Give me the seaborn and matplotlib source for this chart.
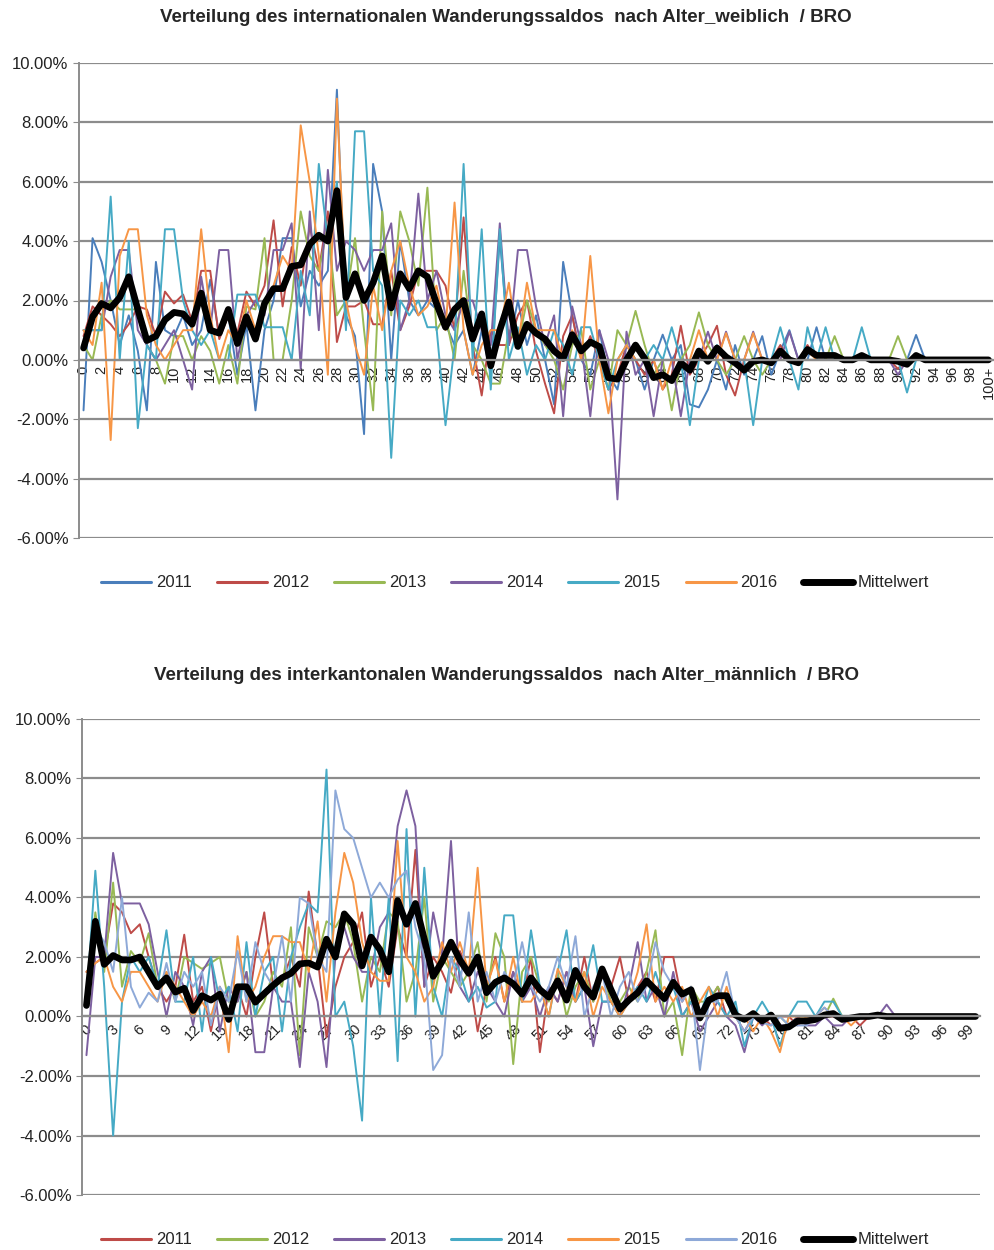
import matplotlib
matplotlib.use("Agg")
import matplotlib.pyplot as plt
import seaborn as sns
import pandas as pd
from matplotlib.lines import Line2D
from matplotlib.ticker import FuncFormatter, MultipleLocator

# Alter 0 .. 100+ (Kategorien)
ages = list(range(101))

# --- Panel 1: internationaler Wanderungssaldo, weiblich (Werte in %) ---
w_2011 = [-1.7, 4.1, 3.3, 2.0, 0.5, 1.5, 0.3, -1.7, 3.3, 1.0,
          0.8, 1.5, 0.5, 1.0, 2.7, 0.8, 1.5, -0.5, 1.2, -1.7,
          1.0, 2.0, 4.1, 4.1, 1.8, 3.0, 2.5, 3.0, 9.1, 1.5,
          0.8, -2.5, 6.6, 5.0, 0.0, 4.0, 2.0, 1.5, 2.0, 1.7,
          1.2, 0.5, 1.0, -0.5, 1.0, -0.5, 4.1, 0.5, 2.0, 0.5,
          1.5, 0.0, -1.5, 3.3, 1.5, 0.0, -0.5, 1.0, -0.5, -1.0,
          0.5, 0.0, -1.0, 0.0, 0.85, 0.0, 0.5, -1.5, -1.6, -1.0,
          0.0, -1.0, 0.5, -0.5, 0.0, 0.8, -0.5, 0.3, 1.0, 0.0,
          0.0, 1.1, 0.0, 0.0, 0.0, 0.0, 0.0, 0.0, 0.0, 0.0,
          0.0, 0.0, 0.84, 0.0, 0.0, 0.0, 0.0, 0.0, 0.0, 0.0, 0.0]
w_2012 = [0.8, 1.8, 1.5, 1.2, 0.8, 1.2, 1.8, 1.7, 0.8, 2.3,
          1.9, 2.2, 1.3, 3.0, 3.0, 0.7, 1.5, 0.9, 2.3, 1.8,
          2.5, 4.7, 1.8, 3.8, 2.5, 4.5, 3.0, 5.0, 0.6, 1.8,
          1.8, 2.0, 1.2, 1.2, 3.0, 1.0, 1.8, 3.0, 3.0, 3.0,
          2.5, 1.0, 4.8, 0.5, -1.2, 1.0, 0.5, 0.5, 1.5, 2.0,
          0.3, -0.8, -1.8, 0.8, 1.5, 0.0, 0.8, 0.0, -1.0, -0.5,
          0.5, 0.0, -0.5, 0.0, -1.0, -0.5, 1.15, -0.5, 0.0, 0.5,
          1.15, -0.5, -1.2, 0.0, 0.0, 0.0, 0.0, 0.5, 0.0, 0.0,
          0.5, 0.0, 0.0, 0.0, 0.0, 0.0, 0.0, 0.0, 0.0, 0.0,
          -0.3, 0.0, 0.0, 0.0, 0.0, 0.0, 0.0, 0.0, 0.0, 0.0, 0.0]
w_2013 = [0.5, 0.0, 1.5, 2.0, 1.7, 1.7, 1.7, 0.5, 0.0, -0.8,
          0.8, 0.8, 0.0, 0.8, 0.3, -0.8, 0.5, -0.8, 1.8, 1.7,
          4.1, 0.0, 0.0, 2.0, 5.0, 3.5, 3.0, 4.5, 1.5, 2.0,
          4.1, 1.0, -1.7, 5.0, 1.5, 5.0, 4.0, 2.5, 5.8, 1.0,
          1.5, 0.0, 3.0, 0.5, 0.0, -0.8, -0.8, 1.0, 0.5, 2.0,
          1.0, 0.5, 0.0, -1.0, 0.5, 1.0, -1.0, 0.0, -1.0, 1.0,
          0.5, 1.65, 0.5, -0.5, 0.0, -1.7, 0.0, 0.5, 1.6, 0.5,
          0.0, -0.5, 0.0, 0.8, 0.0, -0.5, 0.0, 0.0, 0.0, 0.0,
          0.0, 0.0, 0.0, 0.8, 0.0, 0.0, 0.0, 0.0, 0.0, 0.0,
          0.8, 0.0, 0.0, 0.0, 0.0, 0.0, 0.0, 0.0, 0.0, 0.0, 0.0]
w_2014 = [1.0, 1.0, 1.0, 2.8, 3.7, 3.7, 1.0, 0.5, 0.0, 0.5,
          1.0, 0.0, -1.0, 2.8, 1.0, 3.7, 3.7, 0.0, 1.5, 2.0,
          1.5, 3.7, 3.7, 4.6, -0.3, 5.0, 1.0, 6.4, 3.0, 4.0,
          3.7, 3.0, 3.7, 3.7, 4.6, 1.0, 2.0, 5.6, 2.0, 3.0,
          1.5, 1.0, 2.0, 2.0, 1.0, 0.5, 4.6, 0.5, 3.7, 3.7,
          1.8, 0.5, 1.5, -1.9, 1.8, 0.5, -1.9, 1.0, 0.0, -4.7,
          0.95, -0.5, 0.0, -1.9, 0.0, 0.0, -1.9, 0.0, 0.0, 0.95,
          0.0, 0.95, 0.0, 0.0, 0.95, 0.0, 0.0, 0.0, 0.95, 0.0,
          0.0, 0.0, 0.0, 0.0, 0.0, 0.0, 0.0, 0.0, 0.0, 0.0,
          -0.5, 0.0, 0.0, 0.0, 0.0, 0.0, 0.0, 0.0, 0.0, 0.0, 0.0]
w_2015 = [1.0, 1.0, 1.0, 5.5, 0.0, 4.0, -2.3, 0.5, 0.0, 4.4,
          4.4, 2.0, 1.0, 0.5, 1.0, 0.0, 0.0, 2.2, 2.2, 2.2,
          1.1, 1.1, 1.1, 0.0, 3.0, 1.5, 6.6, 4.0, 6.0, 1.0,
          7.7, 7.7, 3.0, 2.5, -3.3, 2.0, 1.5, 2.0, 1.1, 1.1,
          -2.2, 0.5, 6.6, 0.0, 4.4, -1.0, 4.4, 0.0, 1.1, -0.5,
          0.5, 0.0, 1.0, 0.5, -0.5, 1.1, 1.1, 0.0, -1.0, 0.0,
          0.5, 0.0, 0.0, 0.5, 0.0, 1.1, 0.0, -2.2, 0.0, 0.0,
          0.5, 0.0, 0.0, 0.0, -2.2, 0.0, 0.0, 1.1, 0.0, -1.0,
          1.1, 0.0, 1.1, 0.0, 0.0, 0.0, 1.1, 0.0, 0.0, 0.0,
          0.0, -1.1, 0.0, 0.0, 0.0, 0.0, 0.0, 0.0, 0.0, 0.0, 0.0]
w_2016 = [1.0, 0.5, 2.6, -2.7, 3.5, 4.4, 4.4, 1.5, 0.5, 0.0,
          0.5, 1.0, 1.0, 4.4, 1.5, 0.0, 1.0, 0.5, 2.0, 1.0,
          2.0, 2.5, 3.5, 3.0, 7.9, 6.0, 3.5, -0.5, 8.8, 2.0,
          0.5, -0.5, 2.5, 1.0, 3.0, 4.0, 2.5, 1.5, 1.8, 2.5,
          1.0, 5.3, 1.0, -0.5, 0.5, 1.0, 1.0, 2.6, 0.5, 2.6,
          1.0, 1.0, 1.0, 0.0, 1.0, 0.0, 3.5, 0.0, -1.8, 0.0,
          0.5, 0.0, 0.0, 0.0, -1.0, 0.0, 0.0, 0.0, 1.0, 0.0,
          0.0, 0.9, 0.0, 0.0, 0.9, 0.0, 0.0, 0.0, 0.0, 0.0,
          0.3, 0.0, 0.0, 0.0, 0.0, 0.0, 0.0, 0.0, 0.0, 0.0,
          0.0, 0.0, 0.0, 0.0, 0.0, 0.0, 0.0, 0.0, 0.0, 0.0, 0.0]
w_mean = [0.4, 1.45, 1.9, 1.75, 2.1, 2.8, 1.7, 0.65, 0.8, 1.35,
          1.6, 1.55, 1.2, 2.25, 1.0, 0.9, 1.7, 0.55, 1.45, 0.7,
          1.9, 2.4, 2.4, 3.15, 3.2, 3.9, 4.2, 4.0, 5.7, 2.1,
          2.9, 2.0, 2.6, 3.5, 1.75, 2.9, 2.4, 3.0, 2.8, 1.9,
          1.1, 1.7, 2.0, 0.7, 1.55, -0.2, 1.0, 1.95, 0.45, 1.2,
          0.9, 0.7, 0.3, 0.05, 0.85, 0.3, 0.6, 0.45, -0.6, -0.65,
          0.0, 0.5, 0.05, -0.6, -0.5, -0.7, -0.1, -0.35, 0.3, -0.05,
          0.4, 0.1, -0.1, -0.35, -0.05, 0.0, -0.1, 0.3, 0.0, -0.1,
          0.35, 0.15, 0.15, 0.15, 0.0, 0.0, 0.15, 0.0, 0.0, 0.0,
          -0.05, -0.15, 0.15, 0.0, 0.0, 0.0, 0.0, 0.0, 0.0, 0.0, 0.0]

# --- Panel 2: interkantonaler Wanderungssaldo, maennlich (Werte in %) ---
m_2011 = [1.5, 1.8, 2.0, 3.8, 3.5, 2.8, 3.1, 2.0, 1.0, 0.5,
          1.0, 2.75, 0.5, 1.0, -0.5, 1.0, 0.0, 1.0, 0.0, 2.0,
          3.5, 1.0, 1.2, 2.0, 1.0, 4.2, 2.0, -0.7, 1.0, 2.0,
          2.5, 3.5, 1.0, 2.0, 1.0, 3.0, 2.0, 5.6, 1.0, 2.0,
          1.5, 0.8, 2.2, 1.5, -0.5, 1.0, 2.0, 0.5, 1.5, 0.5,
          2.0, -1.2, 1.0, 0.5, 1.5, 0.5, 2.0, 0.5, 1.5, 1.0,
          2.0, 0.5, 1.0, 1.5, 0.5, 2.0, 2.0, 0.5, 1.0, 0.0,
          0.5, 1.0, 0.0, 0.0, -0.5, 0.0, 0.0, -0.3, 0.0, 0.0,
          -0.3, 0.0, 0.0, 0.0, 0.0, 0.0, 0.0, -0.3, 0.0, 0.0,
          0.0, 0.0, 0.0, 0.0, 0.0, 0.0, 0.0, 0.0, 0.0, 0.0, 0.0]
m_2012 = [0.5, 3.5, 1.5, 4.5, 1.0, 2.2, 1.8, 2.8, 1.0, 1.5,
          0.5, 2.0, 1.8, 1.6, 1.8, 2.0, 0.5, 0.5, 1.5, 0.0,
          0.5, 1.5, 1.0, 3.0, -1.3, 3.0, 2.0, 3.2, 3.0, 3.5,
          2.5, 0.5, 2.0, 1.5, 3.5, 3.2, 0.5, 1.5, 4.0, 0.5,
          2.0, 1.5, 1.0, 1.5, 2.5, 0.5, 2.8, 2.0, -1.6, 1.5,
          2.0, 1.0, 0.5, 1.5, 0.0, 1.0, 1.5, 0.5, 1.5, 0.5,
          0.5, 1.0, 0.5, 1.5, 2.9, 0.0, 0.5, -1.3, 1.0, 0.5,
          0.5, 1.0, 0.5, 0.0, 0.0, 0.0, 0.0, 0.0, 0.0, -0.3,
          0.0, 0.0, 0.0, 0.0, 0.6, 0.0, 0.0, 0.0, 0.0, 0.0,
          0.0, 0.0, 0.0, 0.0, 0.0, 0.0, 0.0, 0.0, 0.0, 0.0, 0.0]
m_2013 = [-1.3, 2.0, 2.0, 5.5, 3.8, 3.8, 3.8, 3.1, 1.5, 0.0,
          1.5, 1.0, -0.3, 1.5, 2.0, -0.5, 1.0, 0.5, 1.5, -1.2,
          -1.2, 1.0, 0.5, 0.5, -1.7, 1.5, 0.5, -1.7, 2.0, 3.0,
          2.0, 1.5, 1.5, 3.0, 3.5, 6.4, 7.6, 6.4, 1.0, 3.5,
          2.0, 5.9, 1.0, 0.5, 1.5, 1.0, 0.5, 0.0, 1.5, 0.5,
          1.0, 0.0, 1.0, 0.5, 1.5, 0.5, 1.0, -1.0, 0.5, 0.5,
          0.0, 1.0, 2.5, 0.5, 1.0, 0.0, 1.5, 0.0, 0.5, -0.5,
          0.0, 0.5, 0.0, -0.3, -1.2, 0.0, -0.3, 0.0, -0.3, -0.3,
          0.0, -0.3, -0.3, 0.0, -0.3, -0.3, 0.0, 0.0, 0.0, 0.0,
          0.4, 0.0, 0.0, 0.0, 0.0, 0.0, 0.0, 0.0, 0.0, 0.0, 0.0]
m_2014 = [0.5, 4.9, 1.0, -4.0, 0.5, 2.0, 1.5, 2.0, 1.0, 2.9,
          0.5, 0.5, 2.0, -0.5, 2.0, 0.5, 1.0, -0.5, 2.5, 0.0,
          1.5, 2.0, -0.5, 2.0, 3.0, 3.8, 3.5, 8.3, 0.0, 0.5,
          -1.0, -3.5, 4.0, 0.0, 4.0, -1.5, 6.3, 0.0, 5.0, 1.0,
          0.0, 2.0, 1.5, 0.5, 1.0, 0.3, 0.5, 3.4, 3.4, 0.5,
          2.9, 1.0, 0.0, 1.5, 2.9, 0.5, 1.0, 2.4, 0.5, 0.5,
          0.0, 0.5, 1.0, 0.5, 1.5, 0.5, 1.0, 0.0, 0.5, 0.0,
          1.0, 0.5, 0.0, 0.5, -1.0, 0.0, 0.5, 0.0, -1.0, 0.0,
          0.5, 0.5, 0.0, 0.5, 0.5, 0.0, 0.0, 0.0, 0.0, 0.0,
          0.0, 0.0, 0.0, 0.0, 0.0, 0.0, 0.0, 0.0, 0.0, 0.0, 0.0]
m_2015 = [1.5, 1.8, 2.0, 1.0, 0.5, 1.5, 1.5, 1.0, 0.5, 1.5,
          1.0, 0.5, 0.0, 0.5, 0.0, 1.0, -1.2, 2.7, 0.5, 1.0,
          2.0, 2.7, 2.7, 2.5, 2.5, 1.5, 3.2, 0.5, 3.5, 5.5,
          4.5, 2.5, 1.5, 1.2, 1.2, 5.9, 2.0, 1.5, 0.5, 1.0,
          2.5, 1.5, 2.5, 1.5, 5.0, 1.0, 1.9, 0.5, 2.0, 0.5,
          0.5, 1.0, 0.0, 1.6, 1.0, 0.5, 1.5, 0.0, 1.0, 0.5,
          0.0, 0.5, 1.5, 3.1, 0.5, 1.0, 0.5, 1.0, 0.0, 0.5,
          1.0, 0.0, 1.0, 0.0, 0.0, -0.5, 0.0, -0.5, -1.2, 0.0,
          0.0, 0.0, 0.0, 0.3, 0.0, 0.0, -0.3, 0.0, 0.0, 0.0,
          0.0, 0.0, 0.0, 0.0, 0.0, 0.0, 0.0, 0.0, 0.0, 0.0, 0.0]
m_2016 = [0.5, 3.0, 2.5, 1.5, 4.0, 1.0, 0.3, 0.8, 0.5, 1.8,
          0.5, 1.5, 1.0, 1.5, -0.3, 1.0, 0.5, 2.2, 0.5, 2.5,
          1.5, 1.0, 2.7, 0.5, 4.0, 3.8, 2.0, 1.5, 7.6, 6.3,
          6.0, 5.0, 4.0, 4.5, 4.0, 4.6, 4.9, 3.0, 2.0, -1.8,
          -1.3, 2.0, 1.0, 3.5, 0.5, 1.5, 0.5, 1.5, 1.0, 2.5,
          1.0, 0.5, 1.0, 2.0, 1.0, 2.7, 0.0, 1.0, 1.5, 0.0,
          1.0, 1.5, 0.5, 1.0, 2.5, 1.5, 1.0, 0.5, 1.0, -1.8,
          0.5, 0.5, 1.5, 0.0, -0.5, 0.0, -0.2, -0.3, 0.0, -0.3,
          -0.3, -0.3, 0.0, 0.3, 0.0, 0.0, 0.0, 0.0, 0.0, 0.0,
          0.0, 0.0, 0.0, 0.0, 0.0, 0.0, 0.0, 0.0, 0.0, 0.0, 0.0]
m_mean = [0.37, 3.2, 1.75, 2.05, 1.9, 1.9, 2.0, 1.5, 1.0, 1.3,
          0.82, 0.95, 0.2, 0.7, 0.55, 0.75, -0.1, 1.0, 1.0, 0.48,
          0.77, 1.05, 1.3, 1.45, 1.77, 1.8, 1.66, 2.6, 2.0, 3.45,
          3.1, 1.7, 2.67, 2.25, 1.5, 3.9, 3.1, 3.8, 2.6, 1.35,
          1.85, 2.5, 1.9, 1.45, 2.0, 0.8, 1.15, 1.3, 1.1, 0.75,
          1.3, 0.9, 0.65, 1.2, 0.55, 1.55, 1.0, 0.65, 1.6, 0.9,
          0.25, 0.55, 0.8, 1.2, 0.9, 0.6, 1.15, 0.75, 0.9, -0.05,
          0.55, 0.7, 0.7, 0.05, -0.1, 0.1, -0.15, 0.05, -0.4, -0.35,
          -0.15, -0.15, -0.1, 0.05, 0.1, -0.1, -0.05, 0.0, 0.0, 0.05,
          0.0, 0.0, 0.0, 0.0, 0.0, 0.0, 0.0, 0.0, 0.0, 0.0, 0.0]

years = ["2011", "2012", "2013", "2014", "2015", "2016"]

# Excel-Farben
c_blue, c_red, c_green = "#4a7ebb", "#be4b48", "#98b954"
c_purple, c_aqua, c_orange, c_light = "#7d60a0", "#46aac5", "#f79646", "#8ea9d8"

w_colors = [c_blue, c_red, c_green, c_purple, c_aqua, c_orange]
m_colors = [c_red, c_green, c_purple, c_aqua, c_orange, c_light]

w_labels = [str(a) if a < 100 else "100+" for a in range(0, 101, 2)]
m_labels = [str(a) for a in range(0, 100, 3)]

sns.set_style("white")
plt.rcParams["font.family"] = ["Liberation Sans", "DejaVu Sans"]

GRID = "#8c8c8c"
FS = 12


def pct(v, _pos):
    return f"{v:.2f}%"


def draw_panel(ax, series, colors, mean, tick_pos, tick_labels, rotation):
    df = pd.DataFrame({
        "alter": ages * len(years),
        "wert": [v for s in series for v in s],
        "jahr": [y for y in years for _ in ages],
    })
    sns.lineplot(data=df, x="alter", y="wert", hue="jahr", palette=colors,
                 linewidth=1.4, estimator=None, legend=False, ax=ax)
    sns.lineplot(x=ages, y=mean, color="black", linewidth=4.8, ax=ax)

    ax.set_xlim(-0.5, 100.5)
    ax.set_ylim(-6, 10)
    ax.yaxis.set_major_locator(MultipleLocator(2))
    ax.yaxis.set_major_formatter(FuncFormatter(pct))
    ax.grid(axis="y", color=GRID, linewidth=1.6)
    ax.grid(axis="x", visible=False)
    ax.set_axisbelow(True)

    for s in ["top", "right"]:
        ax.spines[s].set_visible(False)
    ax.spines["left"].set_color(GRID)
    ax.spines["left"].set_linewidth(1.4)
    ax.spines["bottom"].set_position(("data", 0))
    ax.spines["bottom"].set_color(GRID)
    ax.spines["bottom"].set_linewidth(1.6)

    ax.set_xticks(tick_pos)
    ax.set_xticklabels(tick_labels, rotation=rotation, ha="center", va="top")
    ax.tick_params(axis="x", length=3, color=GRID, labelsize=10.5, pad=1,
                   labelcolor="#222222")
    ax.tick_params(axis="y", length=4, color=GRID, labelsize=FS, left=True,
                   labelcolor="#222222")
    ax.set_xlabel("")
    ax.set_ylabel("")


def add_legend(fig, colors, y):
    handles = [Line2D([], [], color=c, linewidth=2.2) for c in colors]
    handles.append(Line2D([], [], color="black", linewidth=5))
    fig.legend(handles, years + ["Mittelwert"], loc="center",
               bbox_to_anchor=(515 / 995, y), ncol=7, frameon=False,
               fontsize=12, handlelength=3.0, handletextpad=0.3,
               columnspacing=1.5)


fig = plt.figure(figsize=(9.95, 12.5), dpi=100)

ax1 = fig.add_axes([79 / 995, 1 - 538 / 1250, 914 / 995, 475 / 1250])
draw_panel(ax1, [w_2011, w_2012, w_2013, w_2014, w_2015, w_2016], w_colors,
           w_mean, list(range(0, 101, 2)), w_labels, 90)
fig.text(506 / 995, 1 - 18 / 1250,
         "Verteilung des internationalen Wanderungssaldos  nach Alter_weiblich  / BRO",
         ha="center", va="center", fontsize=13.5, fontweight="bold")
add_legend(fig, w_colors, 1 - 583 / 1250)

ax2 = fig.add_axes([82 / 995, 1 - 1195 / 1250, 898 / 995, 476 / 1250])
draw_panel(ax2, [m_2011, m_2012, m_2013, m_2014, m_2015, m_2016], m_colors,
           m_mean, list(range(0, 100, 3)), m_labels, 45)
fig.text(507 / 995, 1 - 675 / 1250,
         "Verteilung des interkantonalen Wanderungssaldos  nach Alter_männlich  / BRO",
         ha="center", va="center", fontsize=13.5, fontweight="bold")
add_legend(fig, m_colors, 1 - 1240 / 1250)

fig.savefig("out.png", dpi=100)
plt.close(fig)
